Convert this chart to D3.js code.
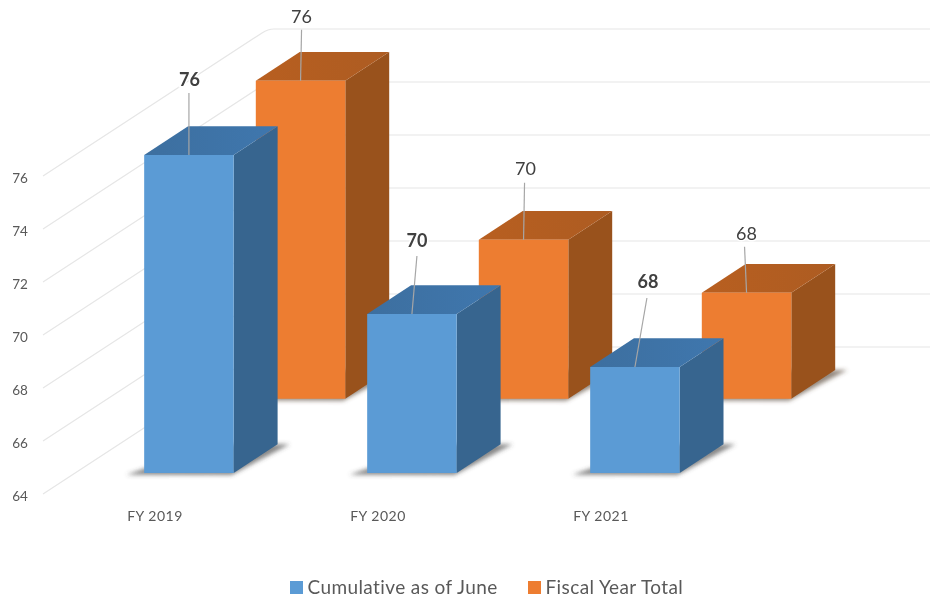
<!DOCTYPE html>
<html>
<head>
<meta charset="utf-8">
<script src="https://cdnjs.cloudflare.com/ajax/libs/d3/7.8.5/d3.min.js"></script>
<style>
html,body{margin:0;padding:0;background:#fff}
svg{display:block;filter:blur(0.45px)}
text{font-family:Lato,"Open Sans",sans-serif}
</style>
</head>
<body>
<svg id="chart" width="930" height="600"></svg>
<script>
// Data
const categories = ["FY 2019", "FY 2020", "FY 2021"];
const seriesNames = ["Cumulative as of June", "Fiscal Year Total"];
const cumulative = [76, 70, 68];
const fiscalTotal = [76, 70, 68];
const tickValues = [64, 66, 68, 70, 72, 74, 76];

// Layout
const W = 930, H = 600;
const svg = d3.select("#chart");
const y = d3.scaleLinear().domain([64, 76]).range([494, 176]);
const x = d3.scaleLinear().domain([0, 2]).range([112, 558]);   // left edge of a bar at depth 0
const zx = d3.scaleLinear().domain([0, 1]).range([0, 225]);     // depth to horizontal shift
const zy = d3.scaleLinear().domain([0, 1]).range([0, -147]);    // depth to vertical shift
const barW = 89.5, barDepth = 0.195;
const P = (px, v, z) => [px + zx(z), y(v) + zy(z)];
const path = pts => "M" + pts.map(p => p.map(n => n.toFixed(1)).join(",")).join("L") + "Z";

const styles = [
  {z: 0.143, dx: 0,  front: "#5b9bd5", side: "#37658f", top: "#3f72a5", shadow: "#4a4a4a"},
  {z: 0.648, dx: -2, front: "#ed7d31", side: "#99521c", top: "#b35e21", shadow: "#5a4a3c"}
];
const labelDX = [[0.5, 5, 13], [1, 2, 0]];   // label offsets from the bar's front-top centre
const labelDY = [[-69, -67, -79], [-58, -65, -53]];
const leadDX = [[0, 5, 12], [1, 1, -2]];
const leadTop = [[-62, -58, -69], [-51, -57, -46]];

const defs = svg.append("defs");
defs.append("filter").attr("id", "soft").attr("x", "-20%").attr("y", "-40%").attr("width", "140%").attr("height", "180%")
  .append("feGaussianBlur").attr("stdDeviation", 2.2);
const grad = defs.append("linearGradient").attr("id", "topBlue").attr("x1", 0).attr("x2", 1).attr("y1", 0).attr("y2", 0);
grad.append("stop").attr("offset", 0).attr("stop-color", "#3d6f9f");
grad.append("stop").attr("offset", 1).attr("stop-color", "#3f77ae");
const grad2 = defs.append("linearGradient").attr("id", "topOrange").attr("x1", 0).attr("x2", 1).attr("y1", 0).attr("y2", 0);
grad2.append("stop").attr("offset", 0).attr("stop-color", "#b85f20");
grad2.append("stop").attr("offset", 1).attr("stop-color", "#ad5c22");

// Gridlines and value axis
svg.append("g").selectAll("path").data(tickValues).join("path")
  .attr("fill", "none").attr("stroke", "#e6e6e6").attr("stroke-width", 1.2)
  .attr("d", v => {
    const a = P(43, v, 0), b = P(43, v, 1);
    return `M${a[0]},${a[1]}L${b[0] - 6},${b[1] + 3.9}Q${b[0]},${b[1]} ${b[0] + 6},${b[1]}L${W},${b[1]}`;
  });
svg.append("g").selectAll("text").data(tickValues).join("text")
  .attr("x", 20).attr("y", v => y(v) + 6.5)
  .attr("text-anchor", "middle").attr("font-size", 13.5).attr("fill", "#595959")
  .text(v => v);

// Bars, back series first
function drawSeries(values, s) {
  const g = svg.append("g");
  const st = styles[s];
  const topFill = s === 0 ? "url(#topBlue)" : "url(#topOrange)";
  values.forEach((v, i) => {
    const L = x(i) + st.dx, R = L + barW, z0 = st.z, z1 = st.z + barDepth;
    const base = y.domain()[0];
    // floor shadow
    g.append("path").attr("filter", "url(#soft)").attr("fill", st.shadow).attr("fill-opacity", 0.65)
      .attr("d", path([P(L - 15, base, z0 - 0.012), P(L + 28, base, z1), P(R + 12, base, z1), P(R + 1, base, z0 - 0.014)]));
    // right side
    g.append("path").attr("fill", st.side)
      .attr("d", path([P(R, v, z0), P(R, v, z1), P(R, base, z1), P(R, base, z0)]));
    // top
    g.append("path").attr("fill", topFill)
      .attr("d", path([P(L, v, z0), P(L, v, z1), P(R, v, z1), P(R, v, z0)]));
    // front
    const f0 = P(L, v, z0), f1 = P(R, base, z0);
    g.append("rect").attr("x", f0[0]).attr("y", f0[1]).attr("width", barW).attr("height", f1[1] - f0[1]).attr("fill", st.front);
  });
}
drawSeries(fiscalTotal, 1);
drawSeries(cumulative, 0);

// Leader lines and data labels
[cumulative, fiscalTotal].forEach((values, s) => {
  const st = styles[s];
  values.forEach((v, i) => {
    const c = P(x(i) + st.dx + barW / 2, v, st.z);
    svg.append("line")
      .attr("x1", c[0] + leadDX[s][i]).attr("y1", c[1] + leadTop[s][i])
      .attr("x2", c[0]).attr("y2", c[1])
      .attr("stroke", "#a6a6a6").attr("stroke-width", 1.2);
    svg.append("text")
      .attr("x", c[0] + labelDX[s][i]).attr("y", c[1] + labelDY[s][i])
      .attr("text-anchor", "middle").attr("font-size", 18)
      .attr("font-weight", s === 0 ? 700 : 400)
      .attr("fill", "#404040")
      .attr("stroke", "#fff").attr("stroke-width", 3).attr("paint-order", "stroke")
      .text(v);
  });
});

// Category axis
svg.append("g").selectAll("text").data(categories).join("text")
  .attr("x", (d, i) => x(i) + 43).attr("y", 521)
  .attr("text-anchor", "middle").attr("font-size", 14).attr("letter-spacing", 0.5).attr("fill", "#595959")
  .text(d => d);

// Legend
const legendX = [290, 528];
const legend = svg.append("g");
seriesNames.forEach((name, i) => {
  legend.append("rect").attr("x", legendX[i]).attr("y", 581).attr("width", 13).attr("height", 13).attr("fill", styles[i].front);
  legend.append("text").attr("x", legendX[i] + 17.5).attr("y", 593.5)
    .attr("font-size", 19).attr("letter-spacing", 0.4).attr("fill", "#595959").text(name);
});
</script>
</body>
</html>
